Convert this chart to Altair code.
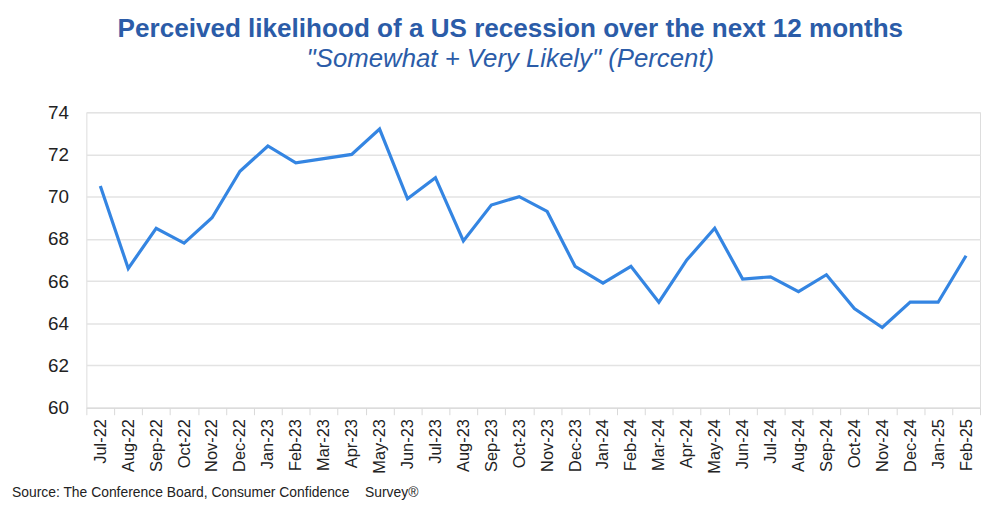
import altair as alt
import pandas as pd

months = ["Jul-22", "Aug-22", "Sep-22", "Oct-22", "Nov-22", "Dec-22",
          "Jan-23", "Feb-23", "Mar-23", "Apr-23", "May-23", "Jun-23",
          "Jul-23", "Aug-23", "Sep-23", "Oct-23", "Nov-23", "Dec-23",
          "Jan-24", "Feb-24", "Mar-24", "Apr-24", "May-24", "Jun-24",
          "Jul-24", "Aug-24", "Sep-24", "Oct-24", "Nov-24", "Dec-24",
          "Jan-25", "Feb-25"]
values = [70.5, 66.6, 68.5, 67.8, 69.0, 71.2,
          72.4, 71.6, 71.8, 72.0, 73.2, 69.9,
          70.9, 67.9, 69.6, 70.0, 69.3, 66.7,
          65.9, 66.7, 65.0, 67.0, 68.5, 66.1,
          66.2, 65.5, 66.3, 64.7, 63.8, 65.0,
          65.0, 67.2]
y_ticks = [60, 62, 64, 66, 68, 70, 72, 74]

title_text = "Perceived likelihood of a US recession over the next 12 months"
subtitle_text = "\"Somewhat + Very Likely\" (Percent)"
source_text = "Source: The Conference Board, Consumer Confidence\u00a0\u00a0\u00a0\u00a0Survey®"

df = pd.DataFrame({"month": months, "value": values})
src = pd.DataFrame({"t": [source_text]})

W, H = 901, 298

line = alt.Chart(df).mark_line(color="#3485e2", strokeWidth=3.2).encode(
    x=alt.X("month:O", sort=months, bandPosition=0.5,
            scale=alt.Scale(type="band", paddingInner=0, paddingOuter=0),
            axis=alt.Axis(title=None, labelAngle=-90, labelFontSize=16.5,
                          labelColor="#222222", labelFont="Liberation Sans",
                          labelPadding=4, tickBand="extent", ticks=True,
                          tickSize=7, tickColor="#d9d9d9", domainColor="#d9d9d9",
                          labelBaseline="middle", labelAlign="right", grid=False)),
    y=alt.Y("value:Q", scale=alt.Scale(domain=[60, 74], nice=False, zero=False),
            axis=alt.Axis(title=None, values=y_ticks, labelFontSize=19,
                          labelColor="#222222", labelFont="Liberation Sans",
                          labelPadding=18, ticks=False, domain=False,
                          grid=True, gridColor="#e3e3e3", gridWidth=1.5)),
)

source = alt.Chart(src).mark_text(
    align="left", baseline="middle", fontSize=14, font="Liberation Sans",
    color="#222222"
).encode(
    x=alt.value(-75), y=alt.value(H + 86), text="t:N"
)

chart = alt.layer(line, source).properties(
    width=W, height=H,
    title=alt.TitleParams(
        text=title_text, subtitle=subtitle_text,
        font="Liberation Sans", fontSize=26.3, fontWeight="bold", color="#2b5ca8",
        subtitleFont="Liberation Sans", subtitleFontSize=26,
        subtitleFontStyle="italic", subtitleColor="#2b5ca8",
        subtitlePadding=3, anchor="middle", dx=-23, offset=32
    ),
    autosize=alt.AutoSizeParams(type="none"),
    padding={"left": 79, "top": 103, "right": 2, "bottom": 96},
).configure_view(stroke=None).configure(background="white")

chart.save("out.html", embed_options={"renderer": "svg", "actions": False})
